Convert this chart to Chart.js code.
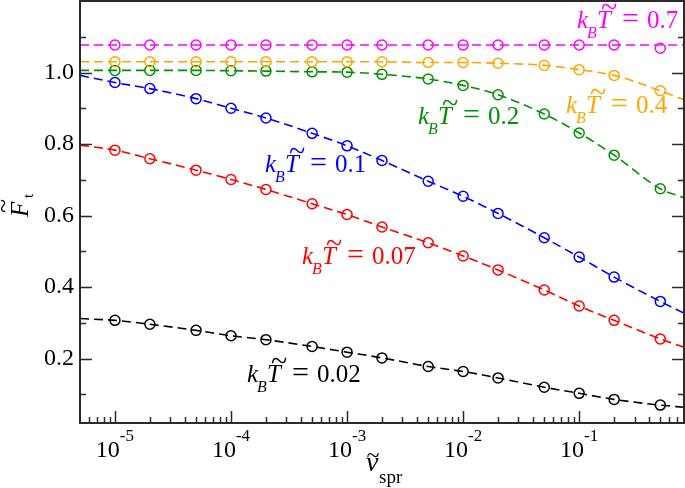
<!DOCTYPE html>
<html>
<head>
<meta charset="utf-8">
<script src="https://cdn.jsdelivr.net/npm/chart.js@4.4.0/dist/chart.umd.min.js"></script>
<style>
  html, body { margin: 0; background: #fff; }
  canvas { display: block; }
</style>
</head>
<body>
<canvas id="chart" width="685" height="488"></canvas>
<script>
// ── Données ──

const xPoints = [1e-5, 2e-5, 5e-5, 1e-4, 2e-4, 5e-4, 1e-3, 2e-3, 5e-3, 1e-2, 2e-2, 5e-2, 0.1, 0.2, 0.5];
const curveX = [5e-6, 1e-5, 2e-5, 5e-5, 1e-4, 2e-4, 5e-4, 1e-3, 2e-3, 5e-3, 1e-2, 2e-2, 5e-2, 0.1, 0.2, 0.5, 0.8];

const pts070 = [1.077, 1.077, 1.077, 1.077, 1.077, 1.077, 1.077, 1.077, 1.077, 1.077, 1.077, 1.077, 1.077, 1.077, 1.068];
const fit070 = [1.077, 1.077, 1.077, 1.077, 1.077, 1.077, 1.077, 1.077, 1.077, 1.077, 1.077, 1.077, 1.077, 1.077, 1.077, 1.077, 1.077];

const pts040 = [1.030, 1.030, 1.030, 1.030, 1.030, 1.030, 1.030, 1.030, 1.028, 1.028, 1.026, 1.020, 1.008, 0.992, 0.949];
const fit040 = [1.030, 1.030, 1.030, 1.030, 1.030, 1.030, 1.030, 1.030, 1.030, 1.028, 1.028, 1.026, 1.020, 1.008, 0.992, 0.949, 0.924];

const pts020 = [1.006, 1.006, 1.006, 1.005, 1.004, 1.002, 1.001, 0.995, 0.982, 0.964, 0.938, 0.884, 0.831, 0.769, 0.675];
const fit020 = [1.006, 1.006, 1.006, 1.006, 1.005, 1.004, 1.002, 1.001, 0.995, 0.982, 0.964, 0.938, 0.884, 0.831, 0.769, 0.675, 0.650];

const pts010 = [0.972, 0.955, 0.927, 0.900, 0.873, 0.830, 0.795, 0.754, 0.696, 0.654, 0.606, 0.538, 0.484, 0.428, 0.360];
const fit010 = [0.992, 0.972, 0.955, 0.927, 0.900, 0.873, 0.830, 0.795, 0.754, 0.696, 0.654, 0.606, 0.538, 0.484, 0.428, 0.360, 0.327];

const pts007 = [0.783, 0.759, 0.727, 0.701, 0.673, 0.633, 0.603, 0.568, 0.524, 0.487, 0.448, 0.392, 0.347, 0.307, 0.255];
const fit007 = [0.797, 0.783, 0.759, 0.727, 0.701, 0.673, 0.633, 0.603, 0.568, 0.524, 0.487, 0.448, 0.392, 0.347, 0.307, 0.255, 0.232];

const pts002 = [0.307, 0.296, 0.279, 0.264, 0.253, 0.234, 0.218, 0.202, 0.178, 0.164, 0.146, 0.120, 0.103, 0.086, 0.070];
const fit002 = [0.312, 0.307, 0.296, 0.279, 0.264, 0.253, 0.234, 0.218, 0.202, 0.178, 0.164, 0.146, 0.120, 0.103, 0.086, 0.070, 0.064];

const seriesValues = ['0.7', '0.4', '0.2', '0.1', '0.07', '0.02'];
const seriesColors = ['#ff00ff', '#ffa500', '#009100', '#0000ff', '#ff0000', '#000000'];
const seriesPts = [pts070, pts040, pts020, pts010, pts007, pts002];
const seriesFit = [fit070, fit040, fit020, fit010, fit007, fit002];

const yTickValues = [0.2, 0.4, 0.6, 0.8, 1.0];
const yTickLabels = ['0.2', '0.4', '0.6', '0.8', '1.0'];
const xTickValues = [1e-5, 1e-4, 1e-3, 1e-2, 1e-1];
const xTickExps = ['-5', '-4', '-3', '-2', '-1'];

// ── Mise en page ──

const SERIF = '"Liberation Serif", "DejaVu Serif", serif';
const AXIS = '#2b2b2b';
// position (px) du début de chaque étiquette kBT et de sa ligne de base
const labelPos = [[577, 28], [566, 113], [418, 124], [265, 172], [302, 264], [247, 382]];

function drawKT(ctx, x0, base, val, color) {
  ctx.fillStyle = color;
  ctx.textAlign = 'left';
  ctx.textBaseline = 'alphabetic';
  ctx.font = `italic 25px ${SERIF}`;
  ctx.fillText('k', x0, base);
  ctx.font = `italic 16px ${SERIF}`;
  ctx.fillText('B', x0 + 10, base + 10);
  ctx.font = `italic 25px ${SERIF}`;
  ctx.fillText('T', x0 + 20, base);
  ctx.font = `30px ${SERIF}`;
  ctx.textAlign = 'center';
  ctx.fillText('~', x0 + 32, base - 11);
  ctx.textAlign = 'left';
  ctx.font = `30px ${SERIF}`;
  ctx.fillText('=', x0 + 45, base);
  ctx.font = `25px ${SERIF}`;
  ctx.fillText(val, x0 + 70, base);
}

const decoPlugin = {
  id: 'deco',
  afterDraw(chart) {
    const { ctx, chartArea: a, scales: { x, y } } = chart;
    ctx.save();

    // cadre
    ctx.strokeStyle = AXIS;
    ctx.lineWidth = 2;
    ctx.strokeRect(a.left, a.top, a.right - a.left, a.bottom - a.top);

    // graduations intérieures
    ctx.lineWidth = 1.5;
    ctx.beginPath();
    for (let i = 1; i <= 11; i++) {
      const py = Math.round(y.getPixelForValue(i / 10)) + 0.5;
      const len = i % 2 === 0 ? 12 : 6;
      ctx.moveTo(a.left, py); ctx.lineTo(a.left + len, py);
      ctx.moveTo(a.right, py); ctx.lineTo(a.right - len, py);
    }
    for (let e = -6; e <= 0; e++) {
      for (let k = 1; k <= 9; k++) {
        const v = k * Math.pow(10, e);
        if (v < x.min || v > x.max) continue;
        const px = Math.round(x.getPixelForValue(v)) + 0.5;
        const len = k === 1 ? 12 : 6;
        ctx.moveTo(px, a.bottom); ctx.lineTo(px, a.bottom - len);
      }
    }
    ctx.stroke();

    // étiquettes de l'axe x : 10^n
    ctx.fillStyle = '#000';
    ctx.textBaseline = 'alphabetic';
    ctx.textAlign = 'left';
    xTickValues.forEach((v, i) => {
      const px = x.getPixelForValue(v);
      ctx.font = `24px ${SERIF}`;
      const w1 = ctx.measureText('10').width;
      ctx.font = `17px ${SERIF}`;
      const w2 = ctx.measureText(xTickExps[i]).width;
      const start = px - (w1 + w2) / 2;
      ctx.font = `24px ${SERIF}`;
      ctx.fillText('10', start, a.bottom + 34);
      ctx.font = `17px ${SERIF}`;
      ctx.fillText(xTickExps[i], start + w1, a.bottom + 18);
    });

    // titre x : ṽ_spr
    ctx.font = `italic 28px ${SERIF}`;
    ctx.fillText('v', 366, 471);
    ctx.font = `24px ${SERIF}`;
    ctx.textAlign = 'center';
    ctx.fillText('~', 373, 463);
    ctx.textAlign = 'left';
    ctx.font = `19px ${SERIF}`;
    ctx.fillText('spr', 379, 483);

    // titre y : F̃_t
    ctx.save();
    ctx.translate(28, 217);
    ctx.rotate(-Math.PI / 2);
    ctx.font = `italic 25px ${SERIF}`;
    ctx.fillText('F', 0, 0);
    ctx.font = `26px ${SERIF}`;
    ctx.textAlign = 'center';
    ctx.fillText('~', 11, -17);
    ctx.textAlign = 'left';
    ctx.font = `15px ${SERIF}`;
    ctx.fillText('t', 19, 5);
    ctx.restore();

    // étiquettes des séries
    seriesValues.forEach((val, i) => {
      drawKT(ctx, labelPos[i][0], labelPos[i][1], val, seriesColors[i]);
    });

    ctx.restore();
  },
};

const datasets = [];
seriesValues.forEach((val, i) => {
  datasets.push({
    label: 'fit ' + val,
    data: curveX.map((xv, j) => ({ x: xv, y: seriesFit[i][j] })),
    borderColor: seriesColors[i],
    borderWidth: 1.6,
    borderDash: [9, 5],
    pointRadius: 0,
    fill: false,
    cubicInterpolationMode: 'monotone',
    order: 2,
  });
  datasets.push({
    label: 'kBT = ' + val,
    data: xPoints.map((xv, j) => ({ x: xv, y: seriesPts[i][j] })),
    showLine: false,
    pointStyle: 'circle',
    pointRadius: 5,
    pointHoverRadius: 5,
    pointBorderWidth: 1.5,
    pointBorderColor: seriesColors[i],
    pointBackgroundColor: 'rgba(0,0,0,0)',
    order: 1,
  });
});

new Chart(document.getElementById('chart'), {
  type: 'line',
  data: { datasets },
  plugins: [decoPlugin],
  options: {
    responsive: false,
    animation: false,
    layout: { autoPadding: false, padding: { top: 1, right: 1, left: 0, bottom: 0 } },
    plugins: { legend: { display: false }, tooltip: { enabled: false } },
    scales: {
      x: {
        type: 'logarithmic',
        min: 5e-6,
        max: 0.8,
        grid: { display: false },
        border: { display: false },
        ticks: { display: false },
        afterFit: (s) => { s.height = 65; s.paddingLeft = 0; s.paddingRight = 0; },
      },
      y: {
        type: 'linear',
        min: 0.02,
        max: 1.2,
        grid: { display: false, drawTicks: false },
        border: { display: false },
        afterBuildTicks: (s) => { s.ticks = yTickValues.map(v => ({ value: v })); },
        ticks: {
          padding: 6,
          color: '#000',
          font: { family: SERIF, size: 24 },
          callback: (v, i) => yTickLabels[i],
        },
        afterFit: (s) => { s.width = 80; s.paddingTop = 0; s.paddingBottom = 0; },
      },
    },
  },
});
</script>
</body>
</html>
